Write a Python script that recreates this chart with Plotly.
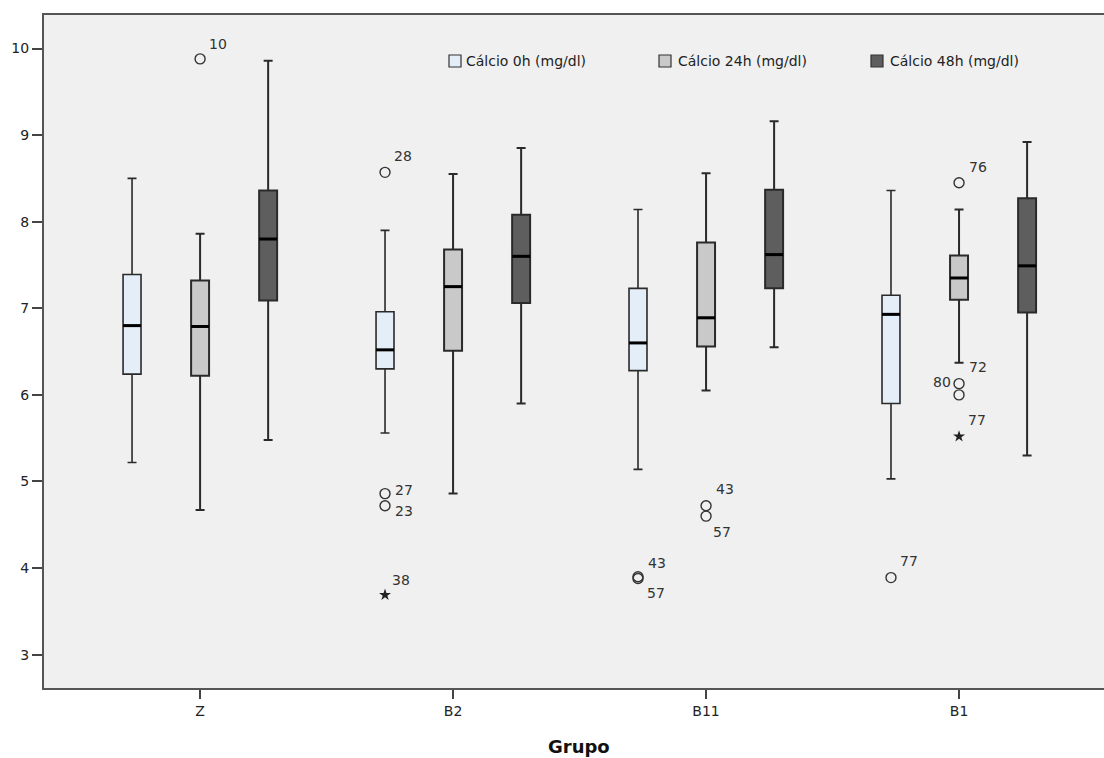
import plotly.graph_objects as go

# ---------------- data ----------------
groups = ["Z", "B2", "B11", "B1"]
series_names = ["Cálcio 0h (mg/dl)", "Cálcio 24h (mg/dl)", "Cálcio 48h (mg/dl)"]

# per series, per group (Z, B2, B11, B1)
lower_0h = [5.22, 5.56, 5.14, 5.03]
q1_0h = [6.24, 6.30, 6.28, 5.90]
med_0h = [6.80, 6.52, 6.60, 6.93]
q3_0h = [7.39, 6.96, 7.23, 7.15]
upper_0h = [8.50, 7.90, 8.14, 8.36]

lower_24h = [4.67, 4.86, 6.05, 6.37]
q1_24h = [6.22, 6.51, 6.56, 7.10]
med_24h = [6.79, 7.25, 6.89, 7.35]
q3_24h = [7.32, 7.68, 7.76, 7.61]
upper_24h = [7.86, 8.55, 8.56, 8.14]

lower_48h = [5.48, 5.90, 6.55, 5.30]
q1_48h = [7.09, 7.06, 7.23, 6.95]
med_48h = [7.80, 7.60, 7.62, 7.49]
q3_48h = [8.36, 8.08, 8.37, 8.27]
upper_48h = [9.86, 8.85, 9.16, 8.92]

# outliers
out_group = ["Z", "B2", "B2", "B2", "B2", "B11", "B11", "B11", "B11", "B1", "B1", "B1", "B1", "B1"]
out_series = [1, 0, 0, 0, 0, 0, 0, 1, 1, 0, 1, 1, 1, 1]
out_values = [9.88, 8.57, 4.86, 4.72, 3.69, 3.90, 3.88, 4.72, 4.60, 3.89, 8.45, 6.13, 6.00, 5.52]
out_ids = ["10", "28", "27", "23", "38", "43", "57", "43", "57", "77", "76", "80", "72", "77"]
out_extreme = [False, False, False, False, True, False, False, False, False, False, False, False, False, True]

# ---------------- styles ----------------
fills = ["#E3EEF9", "#C9C9C9", "#5E5E5E"]
outline = "#2a2a2a"
offsets = [-0.269, 0.0, 0.269]
box_w = 0.071
line_w = [1.6, 2.0, 2.0]
# label offsets in pixels (dx, dy; dy positive = down) and anchor
label_dx = [7, 7, 8, 8, 5, 8, 7, 8, 5, 7, 8, -6, 8, 7]
label_dy = [-15, -16, -4, 5, -15, -14, 15, -17, 16, -17, -16, -2, -28, -16]
label_anchor = ["left"] * 11 + ["right", "left", "left"]

FONT = "DejaVu Sans"
L, R, T, B = 44, 1104, 15, 688  # plot area in px
W, H = 1104, 758


def paper_x(p):
    return (p - L) / (R - L)


def paper_y(p):
    return (B - p) / (B - T)


stats = [
    (lower_0h, q1_0h, med_0h, q3_0h, upper_0h),
    (lower_24h, q1_24h, med_24h, q3_24h, upper_24h),
    (lower_48h, q1_48h, med_48h, q3_48h, upper_48h),
]

fig = go.Figure()
for s, (lo, q1, md, q3, up) in enumerate(stats):
    xs = [i + offsets[s] for i in range(len(groups))]
    fig.add_trace(go.Box(
        name=series_names[s], x=xs, q1=q1, median=md, q3=q3,
        lowerfence=lo, upperfence=up, width=box_w, whiskerwidth=0.5,
        fillcolor=fills[s], line=dict(color=outline, width=line_w[s]),
        boxpoints=False, showlegend=False, hoverinfo="skip",
    ))
    # thick median lines
    mx, my = [], []
    for i, m in enumerate(md):
        mx += [xs[i] - box_w / 2, xs[i] + box_w / 2, None]
        my += [m, m, None]
    fig.add_trace(go.Scatter(x=mx, y=my, mode="lines", line=dict(color="#000000", width=3),
                             showlegend=False, hoverinfo="skip"))

# outliers
ox = [groups.index(g) + offsets[s] for g, s in zip(out_group, out_series)]
circ_x = [x for x, e in zip(ox, out_extreme) if not e]
circ_y = [v for v, e in zip(out_values, out_extreme) if not e]
star_x = [x for x, e in zip(ox, out_extreme) if e]
star_y = [v for v, e in zip(out_values, out_extreme) if e]
fig.add_trace(go.Scatter(x=circ_x, y=circ_y, mode="markers",
                         marker=dict(symbol="circle-open", size=10, color="#333333", line=dict(width=1.4)),
                         showlegend=False, hoverinfo="skip"))
fig.add_trace(go.Scatter(x=star_x, y=star_y, mode="markers",
                         marker=dict(symbol="star", size=9, color="#222222"),
                         showlegend=False, hoverinfo="skip"))

annotations = []
for x, v, lab, dx, dy, anc in zip(ox, out_values, out_ids, label_dx, label_dy, label_anchor):
    annotations.append(dict(x=x, y=v, xref="x", yref="y", text=lab, showarrow=False,
                            xanchor=anc, yanchor="middle", xshift=dx, yshift=-dy,
                            font=dict(family=FONT, size=14, color="#333333")))

# manual legend
leg_sq_left = [449, 659, 871]
leg_text_left = [464, 676, 888]
leg_cy = 61
sq = 12
shapes = []
for s in range(3):
    shapes.append(dict(type="rect", xref="paper", yref="paper",
                       x0=paper_x(leg_sq_left[s]), x1=paper_x(leg_sq_left[s] + sq),
                       y0=paper_y(leg_cy + sq / 2), y1=paper_y(leg_cy - sq / 2),
                       fillcolor=fills[s], line=dict(color="#333333", width=1.2)))
    annotations.append(dict(x=paper_x(leg_text_left[s]), y=paper_y(leg_cy), xref="paper", yref="paper",
                            text=series_names[s], showarrow=False, xanchor="left", yanchor="middle",
                            font=dict(family=FONT, size=14, color="#222222")))

# axis title
annotations.append(dict(x=paper_x(579), y=paper_y(747), xref="paper", yref="paper", text="<b>Grupo</b>",
                        showarrow=False, xanchor="center", yanchor="middle",
                        font=dict(family=FONT, size=18, color="#111111")))

fig.update_layout(
    width=W, height=H,
    margin=dict(l=L, r=W - R, t=T, b=H - B, pad=0),
    paper_bgcolor="white", plot_bgcolor="#F0F0F0",
    font=dict(family=FONT, size=14, color="#222222"),
    shapes=shapes, annotations=annotations,
    showlegend=False,
)
fig.update_xaxes(
    range=[-0.617, 3.573], tickmode="array", tickvals=list(range(len(groups))), ticktext=groups,
    ticks="outside", ticklen=9, tickcolor="#444444", tickwidth=1.5,
    showline=True, linecolor="#555555", linewidth=2, mirror=True,
    showgrid=False, zeroline=False, tickfont=dict(family=FONT, size=14, color="#222222"),
)
fig.update_yaxes(
    range=[2.615, 10.387], tickmode="array", tickvals=[3, 4, 5, 6, 7, 8, 9, 10],
    ticks="outside", ticklen=10, tickcolor="#444444", tickwidth=1.5,
    showline=True, linecolor="#555555", linewidth=2, mirror=False,
    showgrid=False, zeroline=False, tickfont=dict(family=FONT, size=14, color="#222222"),
)

fig.write_html("out.html")
